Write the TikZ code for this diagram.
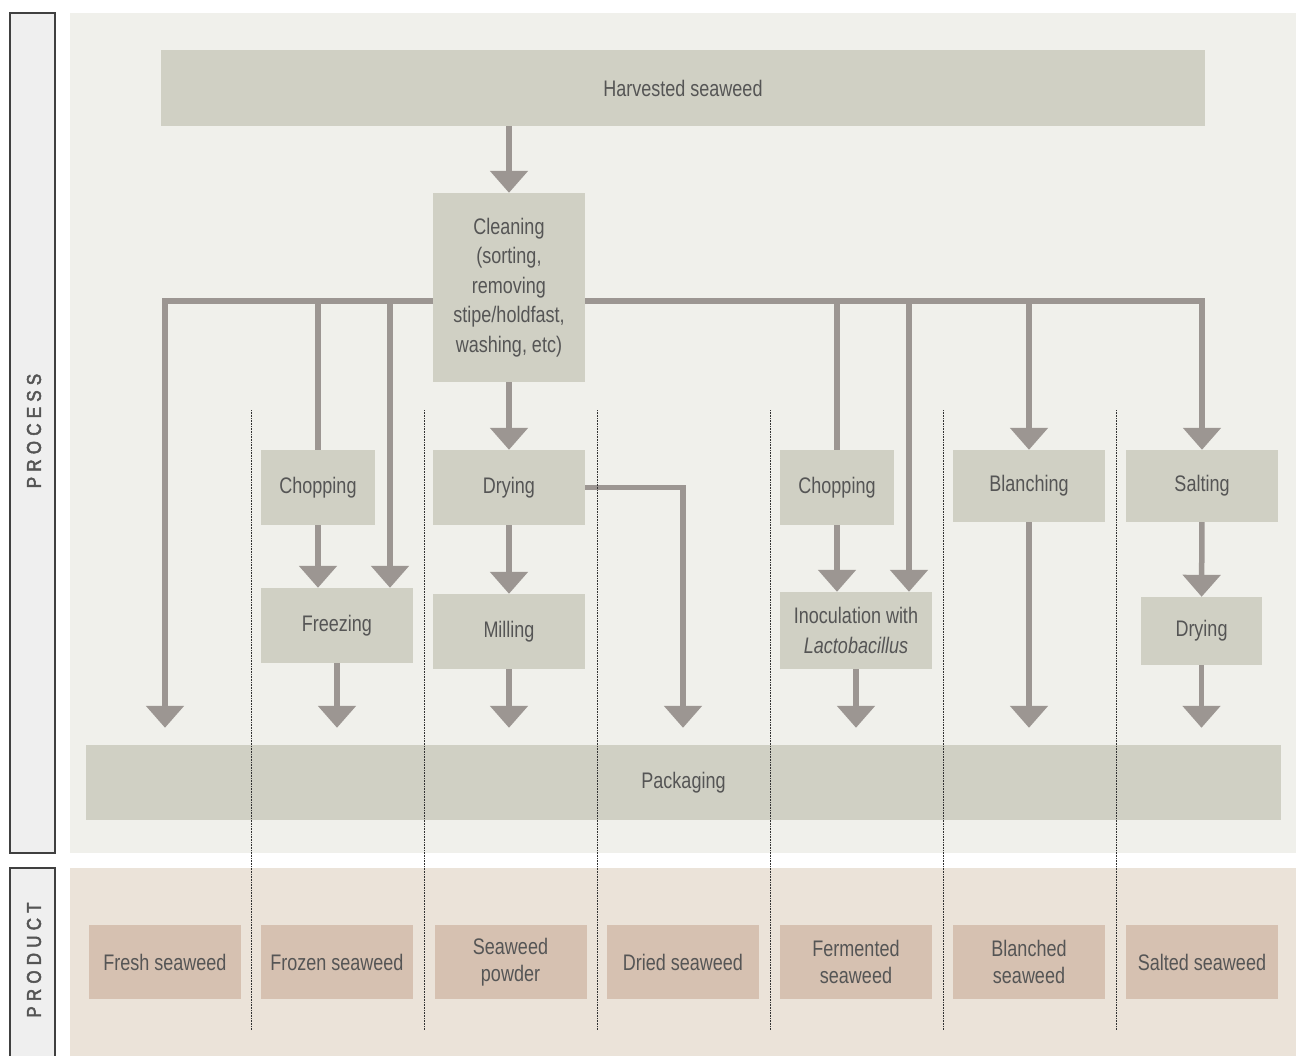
\documentclass[tikz,border=0pt]{standalone}
\usepackage{fontspec}
\setmainfont{Liberation Sans}[FakeStretch=0.8]
\newfontfamily\sidefont{Liberation Sans}[FakeStretch=0.85,LetterSpace=26,FakeBold=2.5]
\usetikzlibrary{arrows.meta}
\definecolor{procbg}{HTML}{F0F0EB}
\definecolor{prodbg}{HTML}{EBE3D9}
\definecolor{boxfill}{HTML}{D0D0C4}
\definecolor{prodfill}{HTML}{D6C1B1}
\definecolor{flowgray}{HTML}{9C9692}
\definecolor{textgray}{HTML}{555555}
\definecolor{sidegray}{HTML}{EFEFEF}
\begin{document}
\begin{tikzpicture}%
	[x=1pt,y=-1pt,
	proc/.style={fill=boxfill, text=textgray, inner sep=0pt, align=center,
		font=\fontsize{22.5}{29.5}\selectfont, minimum width=152pt, minimum height=75pt},
	prod/.style={fill=prodfill, text=textgray, inner sep=0pt, align=center,
		font=\fontsize{22.5}{26.5}\selectfont, minimum width=152pt, minimum height=74pt},
	flow/.style={draw=flowgray, line width=5.5pt, line join=miter,
		-{Triangle[width=37pt,length=22pt]}},
	link/.style={draw=flowgray, line width=5.5pt, line join=miter},
	side/.style={rotate=90, text=textgray, font=\sidefont\fontsize{20}{20}\selectfont},
	sep/.style={draw=black!80, densely dotted, line width=0.6pt}]
\useasboundingbox (0,0) rectangle (1301,1056);
%%
%% Drawing the backgrounds
%%
\fill[procbg] (70,13) rectangle (1296,853);
\fill[prodbg] (70,868) rectangle (1296,1056);
\draw[fill=sidegray, draw=black!75, line width=1.2pt] (10,13) rectangle (55,853);
\draw[fill=sidegray, draw=black!75, line width=1.2pt] (10,1060) -- (10,868) -- (55,868) -- (55,1060);
\node[side] (proclab) at (34,431) {PROCESS};
\node[side] (prodlab) at (34,960) {PRODUCT};
%%
%% Drawing the process steps
%%
\node[proc, minimum width=1044pt, minimum height=76pt] (harv) at (683,88) {Harvested seaweed};
\node[proc, minimum height=189pt] (clean) at (509,287.5) {Cleaning\\(sorting,\\removing\\stipe/holdfast,\\washing, etc)};
\node[proc, minimum width=114pt] (chopA) at (318,487.5) {Chopping};
\node[proc] (freeze) at (337,625.5) {Freezing};
\node[proc] (dryA) at (509,487.5) {Drying};
\node[proc] (mill) at (509,631.5) {Milling};
\node[proc, minimum width=114pt] (chopB) at (837,487.5) {Chopping};
\node[proc, minimum height=77pt] (inoc) at (856,630.5) {Inoculation with\\\textit{Lactobacillus}};
\node[proc, minimum height=72pt] (blanch) at (1029,486) {Blanching};
\node[proc, minimum height=72pt] (salt) at (1202,486) {Salting};
\node[proc, minimum width=121pt, minimum height=68pt] (dryB) at (1201.5,631) {Drying};
\node[proc, minimum width=1195pt] (pack) at (683.5,782.5) {Packaging};
%%
%% Drawing the products
%%
\node[prod] (fresh) at (165,962) {Fresh seaweed};
\node[prod] (frozen) at (337,962) {Frozen seaweed};
\node[prod] (powder) at (510.5,962) {Seaweed\\powder};
\node[prod] (dried) at (683,962) {Dried seaweed};
\node[prod] (ferm) at (856,962) {Fermented\\seaweed};
\node[prod] (blanched) at (1029,962) {Blanched\\seaweed};
\node[prod] (salted) at (1202,962) {Salted seaweed};
%%
%% Drawing the flow
%%
\coordinate (jl) at (433,301);
\coordinate (jr) at (585,301);
\coordinate (fz) at (390,301);
\coordinate (ib) at (909,301);
\draw[flow] (harv.south -| clean) -- (clean);
\draw[flow] (clean) -- (dryA);
\draw[flow, shorten >=17pt] (jl) -| (pack.north -| fresh);
\draw[link] (jl -| chopA) -- (chopA);
\draw[flow] (fz) -- (fz |- freeze.north);
\draw[flow] (jr) -| (salt);
\draw[link] (jr -| chopB) -- (chopB);
\draw[flow] (ib) -- (ib |- inoc.north);
\draw[flow] (jr -| blanch) -- (blanch);
\draw[flow] (chopA) -- (chopA |- freeze.north);
\draw[flow] (dryA) -- (mill);
\draw[flow] (chopB) -- (chopB |- inoc.north);
\draw[flow] (salt) -- (dryB);
\draw[flow, shorten >=17pt] (freeze) -- (freeze |- pack.north);
\draw[flow, shorten >=17pt] (mill) -- (mill |- pack.north);
\draw[flow, shorten >=17pt] (dryA.east) -| (pack.north -| dried);
\draw[flow, shorten >=17pt] (inoc) -- (inoc |- pack.north);
\draw[flow, shorten >=17pt] (blanch) -- (blanch |- pack.north);
\draw[flow, shorten >=17pt] (dryB) -- (dryB |- pack.north);
%%
%% Drawing the column separators
%%
\foreach \x in {251,424,597,770,943,1116}
	\draw[sep] (\x,410) -- (\x,1030);
%%
\end{tikzpicture}
\end{document}
